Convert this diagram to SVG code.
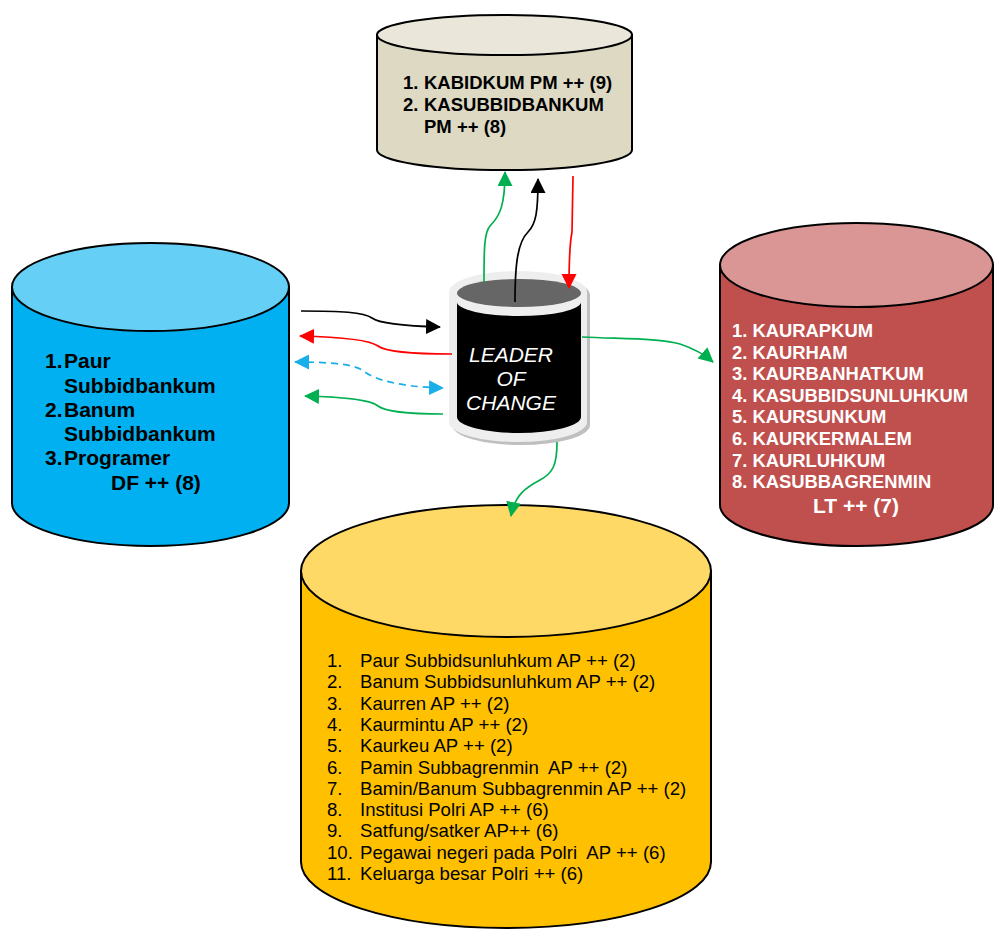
<svg xmlns="http://www.w3.org/2000/svg" width="994" height="929" viewBox="0 0 994 929">
<style>
.cyl{stroke:#000;stroke-width:2}
.b{font-family:"Liberation Sans",Arial,sans-serif;font-weight:bold}
.r{font-family:"Liberation Sans",Arial,sans-serif}
.con{fill:none;stroke-width:1.7}
</style>
<defs>
<marker id="ak" markerUnits="userSpaceOnUse" markerWidth="16" markerHeight="16" refX="14" refY="7.5" orient="auto"><path d="M0,0 L15,7.5 L0,15 Z" fill="#000"/></marker>
<marker id="ar" markerUnits="userSpaceOnUse" markerWidth="16" markerHeight="16" refX="14" refY="7.5" orient="auto"><path d="M0,0 L15,7.5 L0,15 Z" fill="#FF0000"/></marker>
<marker id="ag" markerUnits="userSpaceOnUse" markerWidth="16" markerHeight="16" refX="14" refY="7.5" orient="auto"><path d="M0,0 L15,7.5 L0,15 Z" fill="#00B050"/></marker>
<marker id="ab" markerUnits="userSpaceOnUse" markerWidth="16" markerHeight="16" refX="14" refY="7.5" orient="auto-start-reverse"><path d="M0,0 L15,7.5 L0,15 Z" fill="#1AAFE8"/></marker>
</defs>

<g id="node-top">
<path class="cyl" fill="#DDD9C3" d="M377,35 L377,150 A127.5,20 0 0 0 632,150 L632,35 Z"/>
<ellipse class="cyl" fill="#EAE7DA" cx="504.5" cy="35" rx="127.5" ry="20"/>
<g class="b" font-size="18.5" fill="#000">
<text x="403" y="89">1.</text><text x="424" y="89">KABIDKUM PM ++ (9)</text>
<text x="403" y="111">2.</text><text x="424" y="111">KASUBBIDBANKUM</text>
<text x="424" y="133">PM ++ (8)</text>
</g>
</g>

<g id="node-left">
<path class="cyl" fill="#00B0F0" d="M12,287 L12,503 A138.5,43 0 0 0 289,503 L289,287 Z"/>
<ellipse class="cyl" fill="#66CFF5" cx="150.5" cy="287" rx="138.5" ry="44"/>
<g class="b" font-size="21" fill="#000">
<text x="45" y="368">1.</text><text x="64" y="368">Paur</text>
<text x="64" y="393">Subbidbankum</text>
<text x="45" y="417">2.</text><text x="64" y="417">Banum</text>
<text x="64" y="441">Subbidbankum</text>
<text x="45" y="465">3.</text><text x="64" y="465">Programer</text>
<text x="111" y="490">DF ++ (8)</text>
</g>
</g>

<g id="node-right">
<path class="cyl" fill="#C0504D" d="M720,265 L720,505 A136.5,41 0 0 0 993,505 L993,265 Z"/>
<ellipse class="cyl" fill="#D99694" cx="856.5" cy="265" rx="136.5" ry="42"/>
<g class="b" font-size="18.4" fill="#FFFFFF">
<text x="732" y="337">1. KAURAPKUM</text>
<text x="732" y="358.6">2. KAURHAM</text>
<text x="732" y="380.2">3. KAURBANHATKUM</text>
<text x="732" y="401.8">4. KASUBBIDSUNLUHKUM</text>
<text x="732" y="423.4">5. KAURSUNKUM</text>
<text x="732" y="445">6. KAURKERMALEM</text>
<text x="732" y="466.6">7. KAURLUHKUM</text>
<text x="732" y="488.2">8. KASUBBAGRENMIN</text>
<text x="813" y="513" font-size="21">LT ++ (7)</text>
</g>
</g>

<g id="node-bottom">
<path class="cyl" fill="#FFC000" d="M301,571 L301,862 A205,66 0 0 0 711,862 L711,571 Z"/>
<ellipse class="cyl" fill="#FFD966" cx="506" cy="571" rx="205" ry="66"/>
<g class="r" font-size="18.6" fill="#000">
<text x="327" y="667">1.</text><text x="360" y="667">Paur Subbidsunluhkum AP ++ (2)</text>
<text x="327" y="688.3">2.</text><text x="360" y="688.3">Banum Subbidsunluhkum AP ++ (2)</text>
<text x="327" y="709.6">3.</text><text x="360" y="709.6">Kaurren AP ++ (2)</text>
<text x="327" y="730.9">4.</text><text x="360" y="730.9">Kaurmintu AP ++ (2)</text>
<text x="327" y="752.2">5.</text><text x="360" y="752.2">Kaurkeu AP ++ (2)</text>
<text x="327" y="773.5">6.</text><text x="360" y="773.5" xml:space="preserve">Pamin Subbagrenmin  AP ++ (2)</text>
<text x="327" y="794.8">7.</text><text x="360" y="794.8">Bamin/Banum Subbagrenmin AP ++ (2)</text>
<text x="327" y="816.1">8.</text><text x="360" y="816.1">Institusi Polri AP ++ (6)</text>
<text x="327" y="837.4">9.</text><text x="360" y="837.4">Satfung/satker AP++ (6)</text>
<text x="327" y="858.7">10.</text><text x="360" y="858.7" xml:space="preserve">Pegawai negeri pada Polri  AP ++ (6)</text>
<text x="327" y="880">11.</text><text x="360" y="880">Keluarga besar Polri ++ (6)</text>
</g>
</g>

<g id="node-leader">
<path fill="#BFBFBF" d="M452,295 L452,425 A69,20 0 0 0 590,425 L590,295 A69,21 0 0 0 452,295 Z"/>
<path fill="#EEEEEE" d="M449,292 L449,422 A69,20 0 0 0 587,422 L587,292 A69,21 0 0 0 449,292 Z"/>
<path fill="#000000" d="M457,302 L457,417 A62,16 0 0 0 581,417 L581,302 A62,14 0 0 1 457,302 Z"/>
<ellipse fill="#666666" cx="519" cy="293" rx="62" ry="14"/>
<g class="r" font-size="21" font-style="italic" fill="#FFFFFF" text-anchor="middle">
<text x="511" y="362">LEADER</text>
<text x="511" y="386">OF</text>
<text x="511" y="410">CHANGE</text>
</g>
</g>

<g id="connectors">
<path class="con" stroke="#000" marker-end="url(#ak)" d="M301,311 C340,311 364,312 372,318 C380,324 405,326 440,327"/>
<path class="con" stroke="#FF0000" marker-end="url(#ar)" d="M452,354 C420,354 386,352 378,346 C370,340 340,337 300,336"/>
<path class="con" stroke="#1AAFE8" stroke-dasharray="7,5" marker-start="url(#ab)" marker-end="url(#ab)" d="M295,362 C330,362 356,364 365,372 C375,380 402,387 443,388"/>
<path class="con" stroke="#00B050" marker-end="url(#ag)" d="M443,414 C410,414 386,412 378,406 C370,399 340,397 305,396"/>
<path class="con" stroke="#00B050" marker-end="url(#ag)" d="M484,282 C484,250 484,233 490,226 C500,216 505,205 505,172"/>
<path class="con" stroke="#000" marker-end="url(#ak)" d="M515,302 C515,262 518,242 528,232 C536,224 538,212 538,179"/>
<path class="con" stroke="#FF0000" marker-end="url(#ar)" d="M573,176 L572,232 C570,242 569,255 569,288"/>
<path class="con" stroke="#00B050" marker-end="url(#ag)" d="M582,337 C620,339 660,338 680,344 C695,349 705,355 713,362"/>
<path class="con" stroke="#00B050" marker-end="url(#ag)" d="M557,442 C557,465 553,473 540,480 C525,488 515,495 511,516"/>
</g>
</svg>
